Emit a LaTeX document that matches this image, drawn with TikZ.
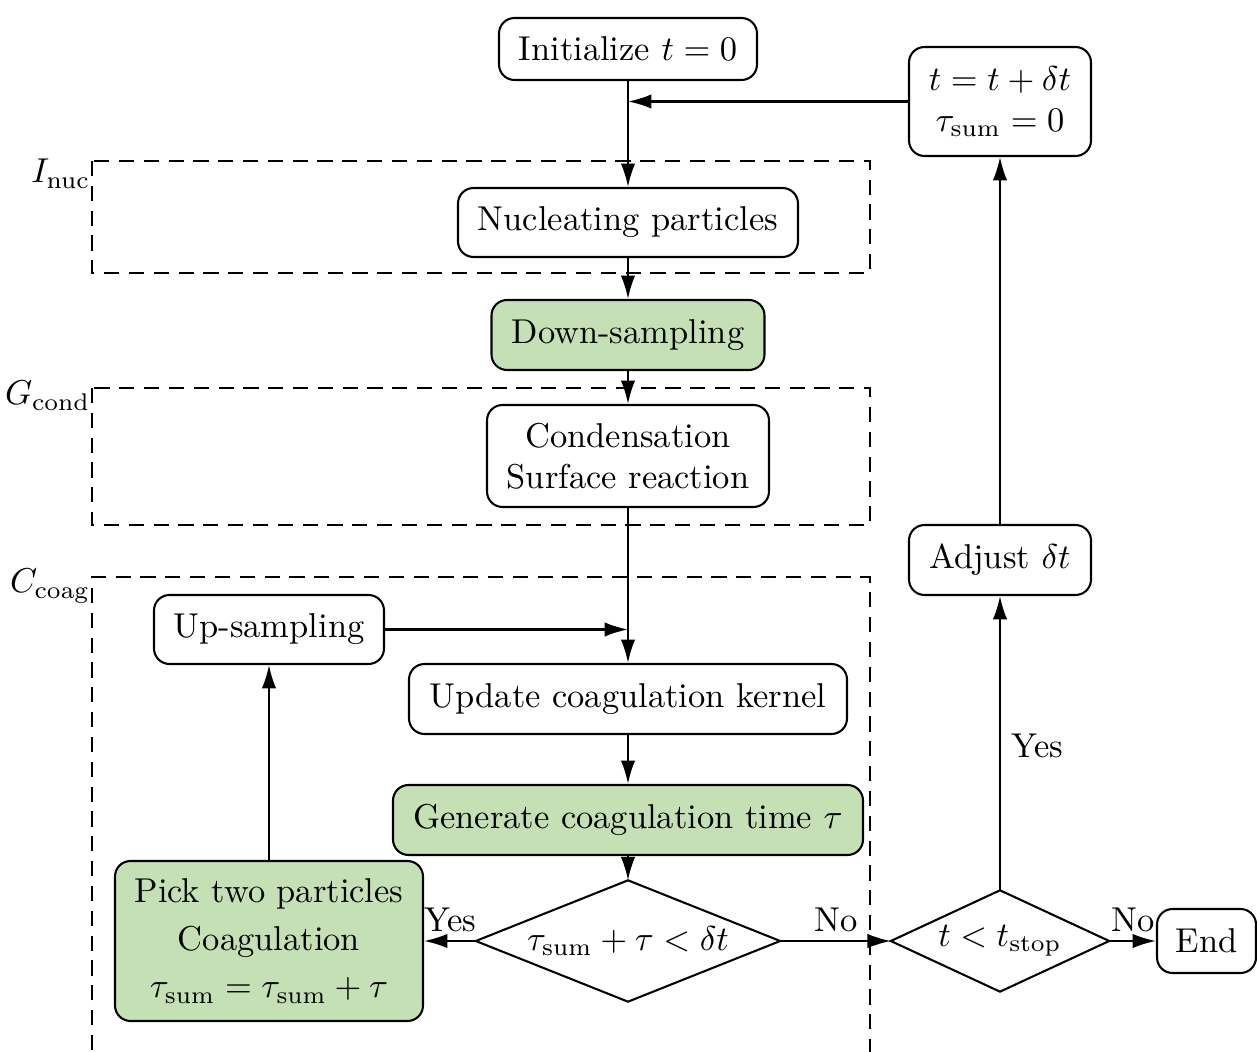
\documentclass[tikz,border=0pt]{standalone}
\usetikzlibrary{arrows.meta}
\definecolor{boxgreen}{RGB}{197,224,180}
\begin{document}
\begin{tikzpicture}[x=0.29pt,y=-0.29pt,
  box/.style={draw, rounded corners=4.5pt, line width=0.6pt, inner sep=0pt, align=center},
  gbox/.style={box, fill=boxgreen},
  wh/.style 2 args={minimum width={#1*0.29pt}, minimum height={#2*0.29pt}},
  dia/.style={inner sep=0pt, draw=none},
  diaborder/.style={line width=0.6pt},
  arr/.style={-{Latex[length=6.8pt,width=4.2pt]}, line width=0.6pt},
  region/.style={line width=0.6pt, dash pattern=on 4.4pt off 2.8pt},
  lab/.style={inner sep=0pt, anchor=base}]
\useasboundingbox (0,0) rectangle (1257,1052);

% dashed regions
\draw[region] (92,161) rectangle (870,273);
\draw[region] (92,388) rectangle (870,525);
\draw[region] (92,1050) -- (92,577) -- (870,577) -- (870,1052);
\node[inner sep=0pt, anchor=base east] (lnuc) at (91,183) {$I_{\mathrm{nuc}}$};
\node[inner sep=0pt, anchor=base east] (lcond) at (91,405) {$G_{\mathrm{cond}}$};
\node[inner sep=0pt, anchor=base east] (lcoag) at (91,593) {$C_{\mathrm{coag}}$};

% nodes
\node[box, wh={258}{62}] (init) at (628,49) {Initialize $t=0$};
\node[box, wh={182}{109}] (tup) at (1000,101.5) {$t=t+\delta t$\\$\tau_{\mathrm{sum}}=0$};
\node[box, wh={340}{69}] (nuc) at (628,222.5) {Nucleating particles};
\node[gbox, wh={273}{70}] (down) at (628,335) {Down-sampling};
\node[box, wh={282}{102}] (cond) at (628,456) {Condensation\\Surface reaction};
\node[box, wh={230}{69}] (up) at (269,629.5) {Up-sampling};
\node[box, wh={438}{70}] (kern) at (628,699) {Update coagulation kernel};
\node[gbox, wh={470}{70}] (gen) at (628,820) {Generate coagulation time $\tau$};
\node[gbox, wh={308}{160}] (pick) at (269,941) {Pick two particles\\[1.8pt]Coagulation\\[1.8pt]$\tau_{\mathrm{sum}}=\tau_{\mathrm{sum}}+\tau$};
\node[box, wh={182}{70}] (adj) at (1000,560) {Adjust $\delta t$};
\node[box, wh={99}{64}] (endn) at (1206.5,941) {End};

\node[dia, wh={303}{120}] (d1) at (628,941) {$\tau_{\mathrm{sum}}+\tau<\delta t$};
\draw[diaborder] (d1.west) -- (d1.north) -- (d1.east) -- (d1.south) -- cycle;
\node[dia, wh={217}{100}] (d2) at (1000,941) {$t<t_{\mathrm{stop}}$};
\draw[diaborder] (d2.west) -- (d2.north) -- (d2.east) -- (d2.south) -- cycle;

% connectors
\draw[arr] (init.south) -- (nuc.north);
\draw[arr] (tup.west) -- (init.south |- tup.west);
\draw[arr] (nuc.south) -- (down.north);
\draw[arr] (down.south) -- (cond.north);
\draw[arr] (cond.south) -- (kern.north);
\draw[arr] (up.east) -- (cond.south |- up.east);
\draw[arr] (kern.south) -- (gen.north);
\draw[arr] (gen.south) -- (d1.north);
\draw[arr] (d1.west) -- (pick.east);
\draw[arr] (pick.north) -- (up.south);
\draw[arr] (d1.east) -- (d2.west);
\draw[arr] (d2.north) -- (adj.south);
\draw[arr] (adj.north) -- (tup.south);
\draw[arr] (d2.east) -- (endn.west);

% edge labels
\node[lab] (yes1) at (450,931) {Yes};
\node[lab] (no1) at (836,931) {No};
\node[lab] (no2) at (1133,931) {No};
\node[lab] (yes2) at (1037,757) {Yes};
\end{tikzpicture}
\end{document}
